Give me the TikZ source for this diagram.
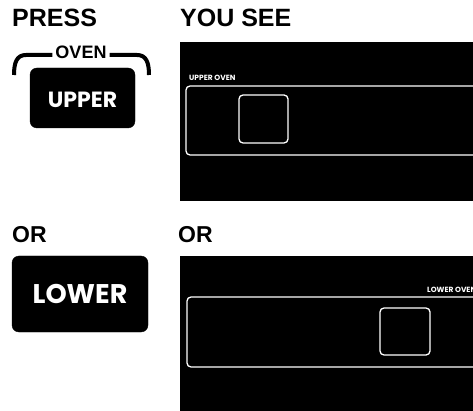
\documentclass[tikz,border=0pt]{standalone}
\usepackage{fontspec}
\setmainfont{Liberation Sans}
\newfontfamily\btnfont{Poppins}
\begin{document}
\begin{tikzpicture}[x=1pt,y=-1pt,
  head/.style={font=\fontsize{25}{25}\selectfont\bfseries, inner sep=0pt, anchor=base west},
  btnbox/.style={fill=black, rounded corners=7pt},
  btntext/.style={text=white, inner sep=0pt, font=\btnfont\bfseries\fontsize{22}{22}\selectfont},
  screen/.style={fill=black},
  window/.style={draw=white, line width=1.3pt, rounded corners=4pt},
  tiny/.style={text=white, inner sep=0pt, anchor=base west, font=\btnfont\bfseries\fontsize{7.5}{7.5}\selectfont}]
\useasboundingbox (0,0) rectangle (473,411);
% headings
\node[head] (press) at (12,27) {PRESS};
\node[head] (yousee) at (180,27) {YOU SEE};
\node[head, font=\fontsize{23}{23}\selectfont\bfseries] (or1) at (12,243) {OR};
\node[head, font=\fontsize{23}{23}\selectfont\bfseries] (or2) at (178,243) {OR};
% oven bracket
\node[inner sep=0pt, font=\fontsize{18}{18}\selectfont\bfseries] (oven) at (81,52) {OVEN};
\draw[line width=4pt] (oven.west) ++(-3,3) -- (26,55) .. controls (17,55) and (14,62) .. (14,75);
\draw[line width=4pt] (oven.east) ++(3,3) -- (137,55) .. controls (146,55) and (149,62) .. (149,75);
% upper button
\draw[btnbox] (30,68) rectangle (135,128);
\node[btntext] (upper) at (82.5,100) {UPPER};
% lower button
\draw[btnbox] (12,256) rectangle (148,332);
\node[btntext, font=\btnfont\bfseries\fontsize{27}{27}\selectfont] (lower) at (80,294) {LOWER};
% upper screen
\begin{scope}
\clip (180,42) rectangle (473,201);
\fill[screen] (180,42) rectangle (473,201);
\draw[window] (186,86) rectangle (490,155);
\draw[window] (239,95) rectangle (288,143);
\node[tiny] (ulabel) at (189,81) {UPPER OVEN};
\end{scope}
% lower screen
\begin{scope}
\clip (180,256) rectangle (473,411);
\fill[screen] (180,256) rectangle (473,411);
\draw[window] (187,297) rectangle (490,367);
\draw[window] (380,308) rectangle (430,355);
\node[tiny] (llabel) at (427,292) {LOWER OVEN};
\end{scope}
\end{tikzpicture}
\end{document}
